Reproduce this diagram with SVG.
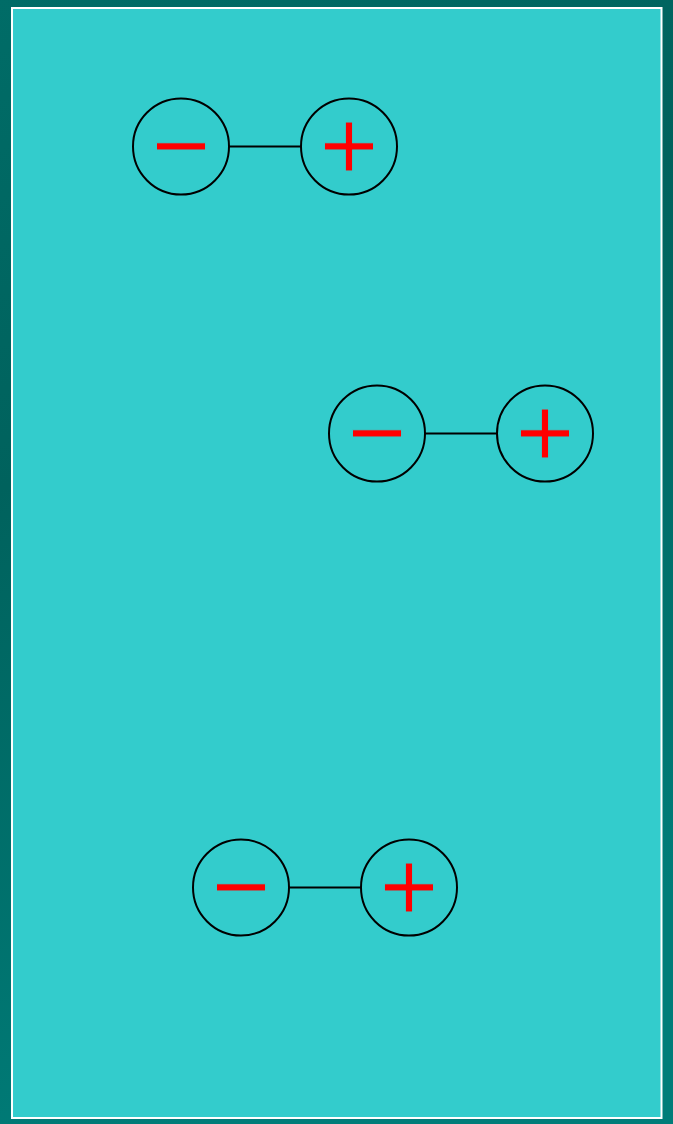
<svg xmlns="http://www.w3.org/2000/svg" width="673" height="1124" viewBox="0 0 673 1124">
<defs>
<linearGradient id="bg" x1="0" y1="0" x2="0.3" y2="1">
<stop offset="0" stop-color="#006c67"/>
<stop offset="0.4" stop-color="#00625d"/>
<stop offset="1" stop-color="#007d79"/>
</linearGradient>
<style>
.ball{fill:#33CCCC;stroke:#000;stroke-width:2}
.link{stroke:#000;stroke-width:2}
.sign{fill:#FF0000;stroke:#33CCCC;stroke-width:1;font-family:"Liberation Sans",Arial,sans-serif;font-size:101px;text-anchor:middle}
</style>
</defs>
<rect x="0" y="0" width="673" height="1124" fill="url(#bg)"/>
<rect x="12" y="8" width="649.5" height="1110" fill="#33CCCC" stroke="#FFFFFF" stroke-width="2"/>
<g id="connectors">
<line class="link" x1="229" y1="146.5" x2="301" y2="146.5"/>
<line class="link" x1="425" y1="433.5" x2="497" y2="433.5"/>
<line class="link" x1="289" y1="887.5" x2="361" y2="887.5"/>
</g>
<g id="pair1-minus"><circle class="ball" cx="181" cy="146.5" r="48"/><text class="sign" x="181" y="180">−</text></g>
<g id="pair1-plus"><circle class="ball" cx="349" cy="146.5" r="48"/><text class="sign" x="349" y="180">+</text></g>
<g id="pair2-minus"><circle class="ball" cx="377" cy="433.5" r="48"/><text class="sign" x="377" y="467">−</text></g>
<g id="pair2-plus"><circle class="ball" cx="545" cy="433.5" r="48"/><text class="sign" x="545" y="467">+</text></g>
<g id="pair3-minus"><circle class="ball" cx="241" cy="887.5" r="48"/><text class="sign" x="241" y="921">−</text></g>
<g id="pair3-plus"><circle class="ball" cx="409" cy="887.5" r="48"/><text class="sign" x="409" y="921">+</text></g>
</svg>
